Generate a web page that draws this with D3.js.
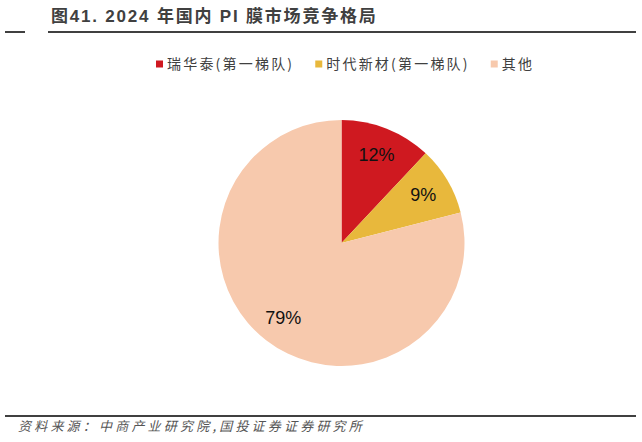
<!DOCTYPE html>
<html>
<head>
<meta charset="utf-8">
<script src="https://cdn.jsdelivr.net/npm/d3@7"></script>
<style>
  html, body { margin: 0; padding: 0; background: #fff; }
  svg { display: block; }
</style>
</head>
<body>
<svg id="chart" width="642" height="442"></svg>
<script>
// 2024 年国内 PI 膜市场竞争格局 — 饼图

const names  = ['瑞华泰(第一梯队)', '时代新材(第一梯队)', '其他'];
const shares = [12, 9, 79];
const colors = ['#cf1920', '#e8b83c', '#f7c9ad'];

const title  = '图41. 2024 年国内 PI 膜市场竞争格局';
const source = '资料来源：中商产业研究院,国投证券证券研究所';

const svg = d3.select('#chart');
const cx = 341.5, cy = 243, R = 123;

// 标题 + 上下分隔线
svg.append('text')
    .attr('x', 51).attr('y', 22)
    .style('font-family', '"Liberation Sans", "Noto Sans CJK SC", sans-serif')
    .style('font-weight', 'bold').style('font-size', '17px')
    .style('letter-spacing', '1.8px')
    .attr('fill', '#404040')
    .text(title);

svg.append('line').attr('x1', 5).attr('x2', 25).attr('y1', 32).attr('y2', 32)
    .attr('stroke', '#000').attr('stroke-width', 1.5);
svg.append('line').attr('x1', 48).attr('x2', 636).attr('y1', 32).attr('y2', 32)
    .attr('stroke', '#000').attr('stroke-width', 1.5);

svg.append('line').attr('x1', 5).attr('x2', 636).attr('y1', 416).attr('y2', 416)
    .attr('stroke', '#000').attr('stroke-width', 1.5);

svg.append('text')
    .attr('x', 18).attr('y', 431)
    .style('font-family', '"Noto Sans CJK SC", sans-serif')
    .style('font-size', '13px').style('font-style', 'italic')
    .style('letter-spacing', '3.2px')
    .attr('fill', '#555')
    .text(source);

// 图例
const color = d3.scaleOrdinal().domain(names).range(colors);
const legend = svg.append('g');
let lx = 156;
names.forEach(n => {
    const item = legend.append('g').attr('transform', `translate(${lx},0)`);
    item.append('rect').attr('x', 0).attr('y', 60.5).attr('width', 7).attr('height', 7)
        .attr('fill', color(n));
    const t = item.append('text').attr('x', 11).attr('y', 69)
        .style('font-family', '"Noto Sans CJK SC", sans-serif')
        .style('font-size', '14px').style('letter-spacing', '2.2px')
        .attr('fill', '#404040')
        .text(n);
    lx += 11 + t.node().getComputedTextLength() + 21;
});

// 饼图
const pie = d3.pie().sort(null).value(d => d.v);
const arcs = pie(names.map((n, i) => ({name: n, v: shares[i]})));
const arc = d3.arc().innerRadius(0).outerRadius(R);
const labelArc = d3.arc().innerRadius(95).outerRadius(95);

const g = svg.append('g').attr('transform', `translate(${cx},${cy})`);
g.selectAll('path.slice').data(arcs).join('path')
    .attr('class', 'slice')
    .attr('d', arc)
    .attr('fill', d => color(d.data.name));

g.selectAll('text.lbl').data(arcs).join('text')
    .attr('class', 'lbl')
    .attr('transform', d => `translate(${labelArc.centroid(d)})`)
    .attr('text-anchor', 'middle').attr('dy', '0.35em')
    .style('font-family', '"Liberation Sans", Arial, sans-serif')
    .style('font-size', '18px')
    .attr('fill', '#111')
    .text(d => d.data.v + '%');
</script>
</body>
</html>
